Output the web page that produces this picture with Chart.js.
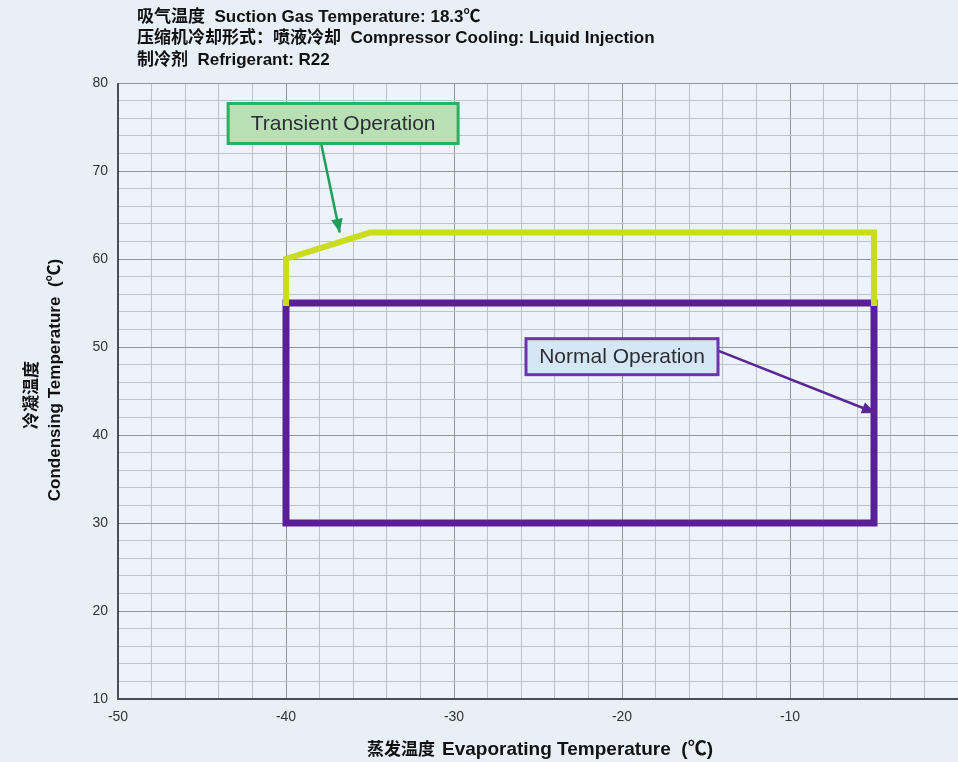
<!DOCTYPE html>
<html><head><meta charset="utf-8">
<script src="https://cdn.jsdelivr.net/npm/chart.js@4.4.1/dist/chart.umd.min.js"></script>
<style>html,body{margin:0;padding:0;background:#e9eff7;}canvas{display:block;}</style>
</head><body>
<canvas id="c" width="958" height="762"></canvas>
<script>
// ---- data ----
const xRange = [-50, 0];
const yRange = [10, 80];
const xTickLabels = [-50, -40, -30, -20, -10];
const yTickLabels = [10, 20, 30, 40, 50, 60, 70, 80];
const transientX = [-40, -40, -35, -5, -5];
const transientY = [55, 60, 63, 63, 55];
const normalX = [-40, -5, -5, -40, -40];
const normalY = [55, 55, 30, 30, 55];
const headerLines = [
  "吸气温度  Suction Gas Temperature: 18.3℃",
  "压缩机冷却形式：喷液冷却  Compressor Cooling: Liquid Injection",
  "制冷剂  Refrigerant: R22"
];
const xTitleCn = "蒸发温度";
const xTitleEn = "Evaporating Temperature  (℃)";
const yTitleLines = ["冷凝温度", "Condensing Temperature  (℃)"];
const noteTransient = {text: "Transient Operation", at: [-36.6, 75.4], tip: [-36.8, 63.0]};
const noteNormal = {text: "Normal Operation", at: [-20.0, 48.9], tip: [-4.9, 42.5]};

const FONT = '"Liberation Sans", "Noto Sans CJK SC", Arial, sans-serif';

const pts = (xs, ys) => xs.map((x, i) => ({x, y: ys[i]}));

const decor = {
  id: 'decor',
  beforeDraw(chart) {
    const {ctx, chartArea: a} = chart;
    ctx.save();
    ctx.fillStyle = '#edf3fa';
    ctx.fillRect(a.left, a.top, a.right - a.left, a.bottom - a.top);
    ctx.restore();
  },
  afterDraw(chart) {
    const {ctx, chartArea: a, scales: {x, y}} = chart;
    ctx.save();
    // axis lines
    ctx.strokeStyle = '#4a4f57';
    ctx.lineWidth = 2;
    ctx.beginPath();
    ctx.moveTo(a.left, a.top); ctx.lineTo(a.left, a.bottom); ctx.lineTo(a.right, a.bottom);
    ctx.stroke();
    // header
    ctx.fillStyle = '#111';
    ctx.font = 'bold 17px ' + FONT;
    ctx.textBaseline = 'middle';
    ctx.textAlign = 'left';
    headerLines.forEach((t, i) => ctx.fillText(t, 137, 17 + i * 21.5));
    // x title
    ctx.font = 'bold 17px ' + FONT;
    ctx.fillText(xTitleCn, 367, 750);
    ctx.font = 'bold 19px ' + FONT;
    ctx.fillText(xTitleEn, 442, 750);
    // y title
    ctx.textAlign = 'center';
    ctx.font = 'bold 17px ' + FONT;
    const yc = [395, 380];
    yTitleLines.forEach((t, i) => {
      ctx.save();
      ctx.translate(32 + i * 23, yc[i]);
      ctx.rotate(-Math.PI / 2);
      ctx.fillText(t, 0, 0);
      ctx.restore();
    });
    // annotations
    const drawNote = (n, fill, stroke, arrowColor, w, h) => {
      const cx = x.getPixelForValue(n.at[0]), cy = y.getPixelForValue(n.at[1]);
      const tx = x.getPixelForValue(n.tip[0]), ty = y.getPixelForValue(n.tip[1]);
      let sx, sy;
      if (n === noteTransient) { sx = cx - 22; sy = cy + h / 2; }
      else { sx = cx + w / 2; sy = cy - 6; }
      ctx.strokeStyle = arrowColor; ctx.lineWidth = 2.5;
      ctx.beginPath(); ctx.moveTo(sx, sy); ctx.lineTo(tx, ty); ctx.stroke();
      const ang = Math.atan2(ty - sy, tx - sx);
      ctx.fillStyle = arrowColor;
      ctx.beginPath();
      ctx.moveTo(tx, ty);
      ctx.lineTo(tx - 15 * Math.cos(ang - 0.4), ty - 15 * Math.sin(ang - 0.4));
      ctx.lineTo(tx - 15 * Math.cos(ang + 0.4), ty - 15 * Math.sin(ang + 0.4));
      ctx.closePath(); ctx.fill();
      ctx.fillStyle = fill;
      ctx.fillRect(cx - w / 2, cy - h / 2, w, h);
      ctx.strokeStyle = stroke; ctx.lineWidth = 3;
      ctx.strokeRect(cx - w / 2, cy - h / 2, w, h);
      ctx.fillStyle = '#2b2f33';
      ctx.font = '21px ' + FONT;
      ctx.textAlign = 'center'; ctx.textBaseline = 'middle';
      ctx.fillText(n.text, cx, cy + 1);
    };
    drawNote(noteTransient, '#b9e0b4', '#2fae62', '#1f9e5a', 230, 40);
    drawNote(noteNormal, '#d5e7f7', '#6a35a8', '#5b2596', 192, 36);
    ctx.restore();
  }
};

const gridColor = (ctx) => {
  const v = ctx.tick && ctx.tick.value;
  return (Math.round(v) % 10 === 0) ? '#8f959d' : '#bcc3cc';
};

new Chart(document.getElementById('c'), {
  type: 'scatter',
  data: {
    datasets: [
      {label: 'Transient', data: pts(transientX, transientY), showLine: true,
       borderColor: '#c9dc1f', borderWidth: 6, pointRadius: 0, fill: false,
       borderJoinStyle: 'miter', borderCapStyle: 'square'},
      {label: 'Normal', data: pts(normalX, normalY), showLine: true,
       borderColor: '#5a1f98', borderWidth: 7, pointRadius: 0, fill: false,
       borderJoinStyle: 'miter', borderCapStyle: 'square'}
    ]
  },
  options: {
    responsive: false,
    animation: false,
    layout: {padding: {top: 83, right: 0, left: 0, bottom: 0}},
    plugins: {legend: {display: false}, tooltip: {enabled: false}},
    scales: {
      x: {
        type: 'linear', min: xRange[0], max: xRange[1],
        afterBuildTicks: (s) => { s.ticks = []; for (let v = xRange[0]; v <= xRange[1]; v += 2) s.ticks.push({value: v}); },
        afterFit: (s) => { s.height = 63; s.paddingLeft = 0; s.paddingRight = 0; },
        grid: {color: gridColor, lineWidth: 1, drawTicks: false},
        border: {display: false},
        ticks: {padding: 10, color: '#333', font: {size: 14, family: FONT},
          autoSkip: false, maxRotation: 0,
          callback: (v) => xTickLabels.includes(v) ? String(v) : ''}
      },
      y: {
        type: 'linear', min: yRange[0], max: yRange[1],
        afterBuildTicks: (s) => { s.ticks = []; for (let v = yRange[0]; v <= yRange[1]; v += 2) s.ticks.push({value: v}); },
        afterFit: (s) => { s.width = 118; },
        grid: {color: gridColor, lineWidth: 1, drawTicks: false},
        border: {display: false},
        ticks: {padding: 10, color: '#333', font: {size: 14, family: FONT},
          autoSkip: false,
          callback: (v) => yTickLabels.includes(v) ? String(v) : ''}
      }
    }
  },
  plugins: [decor]
});
</script>
</body></html>
